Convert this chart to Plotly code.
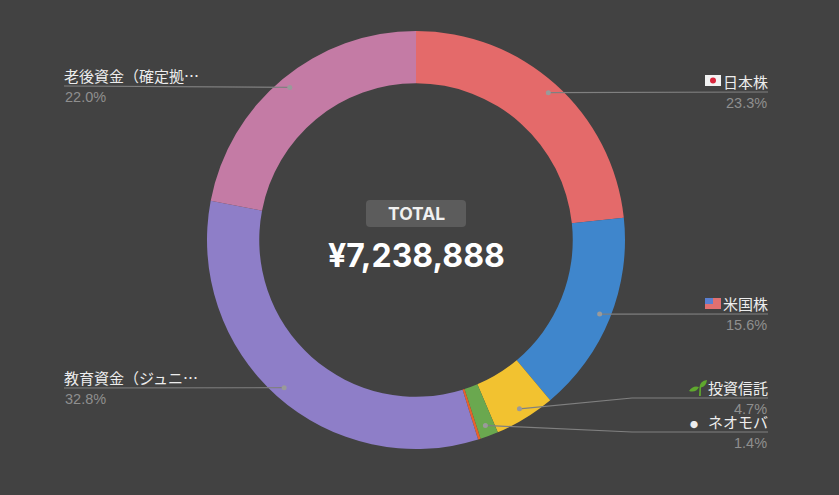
import math
import plotly.graph_objects as go

W, H = 839, 495

# 資産の内訳 (%)
names = ["日本株", "米国株", "投資信託", "ネオモバ", "その他", "教育資金（ジュニ…", "老後資金（確定拠…"]
values = [23.3, 15.6, 4.7, 1.4, 0.2, 32.8, 22.0]
colors = ["#E46A6A", "#3F86CC", "#F2C230", "#6AA84F", "#E8622A", "#8E7EC8", "#C47BA5"]
total_label = "TOTAL"
total_value = "¥7,238,888"

cx, cy, radius = 416, 240, 209

# name -> 行の位置: (ラベル端x, 線y, 折れ点x)
labels = {
    "日本株": (768, 92, None),
    "米国株": (768, 314, None),
    "投資信託": (768, 398, 632),
    "ネオモバ": (768, 432, 632),
    "教育資金（ジュニ…": (64, 388, None),
    "老後資金（確定拠…": (64, 86, None),
}
prefix = {"ネオモバ": "<span style='font-size:8px'>●</span>&nbsp;&nbsp; "}


def px(x):
    return x / W


def py(y):
    return 1 - y / H


fig = go.Figure()
fig.add_trace(go.Pie(
    labels=names, values=values, marker=dict(colors=colors, line=dict(width=0)),
    hole=0.75, sort=False, direction="clockwise", rotation=0,
    textinfo="none", hoverinfo="skip", showlegend=False,
    domain=dict(x=[px(cx - radius), px(cx + radius)], y=[py(cy + radius), py(cy - radius)]),
))

shapes = []
annotations = []
total = sum(values)
acc = 0
for name, v in zip(names, values):
    mid = (acc + v / 2) / total * 2 * math.pi
    acc += v
    if name not in labels:
        continue
    end_x, line_y, elbow = labels[name]
    ax = cx + 198 * math.sin(mid)
    ay = cy - 198 * math.cos(mid)
    path = f"M {px(ax)} {py(ay)} "
    if elbow:
        path += f"L {px(elbow)} {py(line_y)} "
    path += f"L {px(end_x)} {py(line_y)}"
    shapes.append(dict(type="path", path=path, xref="paper", yref="paper",
                       line=dict(color="#808080", width=1.2)))
    shapes.append(dict(type="circle", xref="paper", yref="paper",
                       x0=px(ax - 2.5), x1=px(ax + 2.5), y0=py(ay + 2.5), y1=py(ay - 2.5),
                       fillcolor="#9a9a9a", line=dict(width=0)))
    anchor = "right" if end_x > cx else "left"
    pct_x = end_x + 1 if end_x > cx else end_x - 1.5
    annotations.append(dict(text=prefix.get(name, "") + name, x=px(end_x), y=py(line_y - 10.5),
                            xref="paper", yref="paper", xanchor=anchor, yanchor="middle", showarrow=False,
                            font=dict(family="Noto Sans CJK JP", size=15, color="#EDEDED"),
                            borderpad=0, borderwidth=0))
    annotations.append(dict(text=f"{v:.1f}%", x=px(pct_x), y=py(line_y + 10.5), xref="paper", yref="paper",
                            xanchor=anchor, yanchor="middle", showarrow=False,
                            font=dict(family="Liberation Sans", size=14.5, color="#8F8F8F")))


def box(x0, y0, x1, y1, color):
    shapes.append(dict(type="rect", xref="paper", yref="paper", x0=px(x0), x1=px(x1),
                       y0=py(y1), y1=py(y0), fillcolor=color, line=dict(width=0)))


# 国旗と芽のアイコン
box(705, 75, 721, 86, "#F2F2F2")
shapes.append(dict(type="circle", xref="paper", yref="paper", x0=px(710), x1=px(716),
                   y0=py(83.5), y1=py(77.5), fillcolor="#D8263C", line=dict(width=0)))
box(705, 298, 721, 309, "#E07070")
box(705, 298, 713, 304, "#5A7FD0")
shapes.append(dict(type="path", xref="paper", yref="paper", fillcolor="#5FA82E", line=dict(width=0),
                   path=f"M {px(699)} {py(396)} L {px(699.5)} {py(387)} Q {px(700)} {py(381)} {px(707)} {py(380)} "
                        f"Q {px(706)} {py(387)} {px(701)} {py(387.5)} L {px(700.8)} {py(396)} Z"))
shapes.append(dict(type="path", xref="paper", yref="paper", fillcolor="#5FA82E", line=dict(width=0),
                   path=f"M {px(689)} {py(391)} Q {px(693)} {py(385)} {px(699)} {py(387)} "
                        f"Q {px(696)} {py(393)} {px(689)} {py(391)} Z"))

# 中央の合計
shapes.append(dict(type="path", xref="paper", yref="paper", fillcolor="#5C5C5C", line=dict(width=0),
                   path=f"M {px(370)} {py(200)} L {px(462)} {py(200)} Q {px(466)} {py(200)} {px(466)} {py(204)} "
                        f"L {px(466)} {py(223)} Q {px(466)} {py(227)} {px(462)} {py(227)} "
                        f"L {px(370)} {py(227)} Q {px(366)} {py(227)} {px(366)} {py(223)} "
                        f"L {px(366)} {py(204)} Q {px(366)} {py(200)} {px(370)} {py(200)} Z"))
annotations.append(dict(text=f"<b>{total_label}</b>", x=px(416), y=py(213), xref="paper", yref="paper",
                        showarrow=False, font=dict(family="Inter", size=17.5, color="#F0F0F0")))
annotations.append(dict(text=f"<b>{total_value}</b>", x=px(416), y=py(255), xref="paper", yref="paper",
                        showarrow=False, font=dict(family="Inter", size=32, color="#FFFFFF")))

fig.update_layout(width=W, height=H, autosize=False, margin=dict(l=0, r=0, t=0, b=0, pad=0),
                  paper_bgcolor="#424242", plot_bgcolor="#424242",
                  shapes=shapes, annotations=annotations)
# bodyの余白を消す
fig.write_html("out.html", config={"displayModeBar": False},
               post_script="document.body.style.margin='0';document.body.style.background='#424242';"
                           "document.body.style.overflow='hidden';")
